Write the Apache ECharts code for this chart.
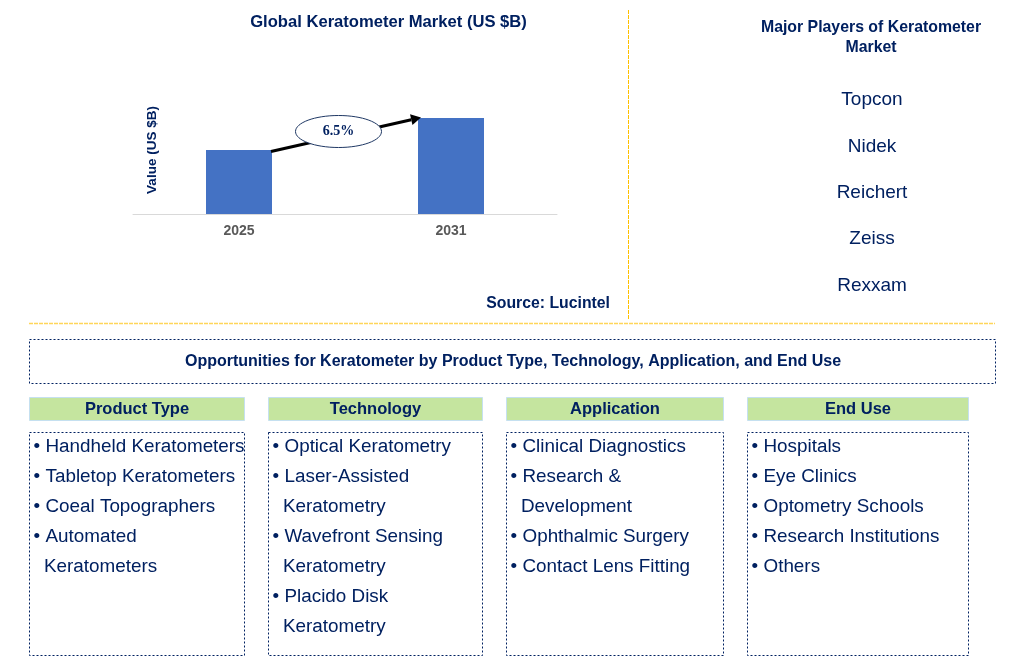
<!DOCTYPE html>
<html>
<head>
<meta charset="utf-8">
<title>Keratometer Market</title>
<script src="https://cdn.jsdelivr.net/npm/echarts@6/dist/echarts.min.js"></script>
<style>
  html, body { margin: 0; padding: 0; background: #fff; }
  #main { width: 1024px; height: 668px; }
</style>
</head>
<body>
<div id="main"></div>
<script>
// chart values (no axis numbers in the picture)
const years = ['2025', '2031']
const marketValues = [2, 3]
const growthLabel = '6.5%'

const chartTitle = 'Global Keratometer Market (US $B)'
const valueAxisName = 'Value (US $B)'
const sourceText = 'Source: Lucintel'
const playersTitle = 'Major Players of Keratometer\nMarket'
const players = ['Topcon', 'Nidek', 'Reichert', 'Zeiss', 'Rexxam']
const playerRows = [100, 146.5, 192.5, 239, 285.5]
const opportunitiesTitle = 'Opportunities for Keratometer by Product Type, Technology, Application, and End Use'

const columnNames = ['Product Type', 'Technology', 'Application', 'End Use']
const productTypes = ['Handheld Keratometers', 'Tabletop Keratometers', 'Coeal Topographers', 'Automated\nKeratometers']
const technologies = ['Optical Keratometry', 'Laser-Assisted\nKeratometry', 'Wavefront Sensing\nKeratometry', 'Placido Disk\nKeratometry']
const applications = ['Clinical Diagnostics', 'Research &\nDevelopment', 'Ophthalmic Surgery', 'Contact Lens Fitting']
const endUses = ['Hospitals', 'Eye Clinics', 'Optometry Schools', 'Research Institutions', 'Others']
const columnItems = [productTypes, technologies, applications, endUses]

const columnLeft = [29.5, 268.5, 506.5, 747.5]
const columnRight = [244.5, 482.5, 723.5, 968.5]

const NAVY = '#002060'
const FONT = '"Liberation Sans", Arial, sans-serif'
const BAR_WIDTH = 66
const LIST_SIZE = 18.85

let myChart = echarts.init(document.getElementById('main'), null, { renderer: 'canvas' })

function textEl(text, x, y, size, bold, align, color) {
  return {
    type: 'text',
    silent: true,
    style: {
      text: text, x: x, y: y,
      font: (bold ? 'bold ' : '') + size + 'px ' + FONT,
      fill: color || NAVY,
      align: align || 'left',
      verticalAlign: 'middle',
      lineHeight: 20
    }
  }
}

function dottedBox(x1, y1, x2, y2) {
  return {
    type: 'rect',
    silent: true,
    shape: { x: x1, y: y1, width: x2 - x1, height: y2 - y1 },
    style: { fill: 'none', stroke: NAVY, lineWidth: 1, lineDash: [2, 2] }
  }
}

function yellowLine(x1, y1, x2, y2, width, alpha) {
  return {
    type: 'line',
    silent: true,
    shape: { x1: x1, y1: y1, x2: x2, y2: y2 },
    style: { stroke: '#ffc000', lineWidth: width, lineDash: [4, 1], opacity: alpha }
  }
}

function buildPageGraphics() {
  let out = [
    yellowLine(628.5, 10, 628.5, 320, 1, 1),
    yellowLine(29, 323.5, 995, 323.5, 1.5, 0.65),
    textEl(sourceText, 610, 303.5, 15.8, true, 'right'),
    textEl(playersTitle, 871, 38, 15.85, true, 'center'),
    dottedBox(29.5, 339.5, 995.5, 383.5),
    textEl(opportunitiesTitle, 513, 362, 16, true, 'center')
  ]

  players.forEach((name, i) => {
    out.push(textEl(name, 872, playerRows[i], 19, false, 'center'))
  })

  columnNames.forEach((name, c) => {
    const left = columnLeft[c]
    const right = columnRight[c]
    out.push({
      type: 'rect',
      silent: true,
      shape: { x: left, y: 397.5, width: right - left, height: 23 },
      style: { fill: '#c5e59f', stroke: '#c5e0f0', lineWidth: 1 }
    })
    out.push(textEl(name, (left + right) / 2, 409.5, 16.5, true, 'center'))
    out.push(dottedBox(left, 432.5, right, 655.5))

    let row = 0
    columnItems[c].forEach(item => {
      item.split('\n').forEach((line, k) => {
        const y = 446.5 + row * 30
        if (k === 0) {
          out.push(textEl('•', left + 4, y, LIST_SIZE, false))
          out.push(textEl(line, left + 16, y, LIST_SIZE, false))
        } else {
          out.push(textEl(line, left + 14.5, y, LIST_SIZE, false))
        }
        row++
      })
    })
  })
  return out
}

// arrow between the two bar tops with the growth ellipse on it
function renderGrowthArrow(params, api) {
  const a = api.coord([0, marketValues[0]])
  const b = api.coord([1, marketValues[1]])
  const x1 = a[0] + BAR_WIDTH / 2 - 1
  const y1 = a[1] + 1.5
  const x2 = b[0] - BAR_WIDTH / 2 + 3
  const y2 = b[1] - 0.5
  const ang = Math.atan2(y2 - y1, x2 - x1)
  const head = 10
  const half = 5.5
  const bx = x2 - head * Math.cos(ang)
  const by = y2 - head * Math.sin(ang)
  const px = -Math.sin(ang) * half
  const py = Math.cos(ang) * half
  const cx = (x1 + x2) / 2 - 7.5
  const cy = (y1 + y2) / 2 - 3
  return {
    type: 'group',
    children: [
      {
        type: 'line',
        shape: { x1: x1, y1: y1, x2: bx, y2: by },
        style: { stroke: '#000', lineWidth: 3 }
      },
      {
        type: 'polygon',
        shape: { points: [[x2, y2], [bx + px, by + py], [bx - px, by - py]] },
        style: { fill: '#000' }
      },
      {
        type: 'ellipse',
        shape: { cx: cx, cy: cy, rx: 43, ry: 16 },
        style: { fill: '#fff', stroke: '#1f3864', lineWidth: 1 }
      },
      {
        type: 'text',
        style: {
          text: growthLabel, x: cx, y: cy,
          font: 'bold 14px "Liberation Serif", serif',
          fill: NAVY, align: 'center', verticalAlign: 'middle'
        }
      }
    ]
  }
}

let option = {
  animation: false,
  backgroundColor: '#fff',
  title: {
    text: chartTitle,
    left: 383.5,
    top: 9,
    textAlign: 'center',
    textStyle: { fontFamily: FONT, fontSize: 16.6, fontWeight: 'bold', color: NAVY }
  },
  grid: { left: 133, right: 467, top: 86, bottom: 454 },
  xAxis: {
    type: 'category',
    data: years,
    axisTick: { show: false },
    axisLine: { lineStyle: { color: '#d9d9d9', width: 1 } },
    axisLabel: { margin: 10, fontFamily: FONT, fontSize: 14, fontWeight: 'bold', color: '#595959' }
  },
  yAxis: {
    type: 'value',
    min: 0,
    max: 4,
    name: valueAxisName,
    nameLocation: 'middle',
    nameGap: -26,
    nameRotate: 90,
    nameTextStyle: { fontFamily: FONT, fontSize: 13.5, fontWeight: 'bold', color: NAVY },
    axisLine: { show: false },
    axisTick: { show: false },
    axisLabel: { show: false },
    splitLine: { show: false }
  },
  series: [
    {
      type: 'bar',
      data: marketValues,
      barWidth: BAR_WIDTH,
      itemStyle: { color: '#4472c4' },
      silent: true
    },
    {
      type: 'custom',
      data: [[0, marketValues[0]]],
      renderItem: renderGrowthArrow,
      silent: true,
      z: 5
    }
  ],
  graphic: { elements: buildPageGraphics() }
}

myChart.setOption(option)
</script>
</body>
</html>
